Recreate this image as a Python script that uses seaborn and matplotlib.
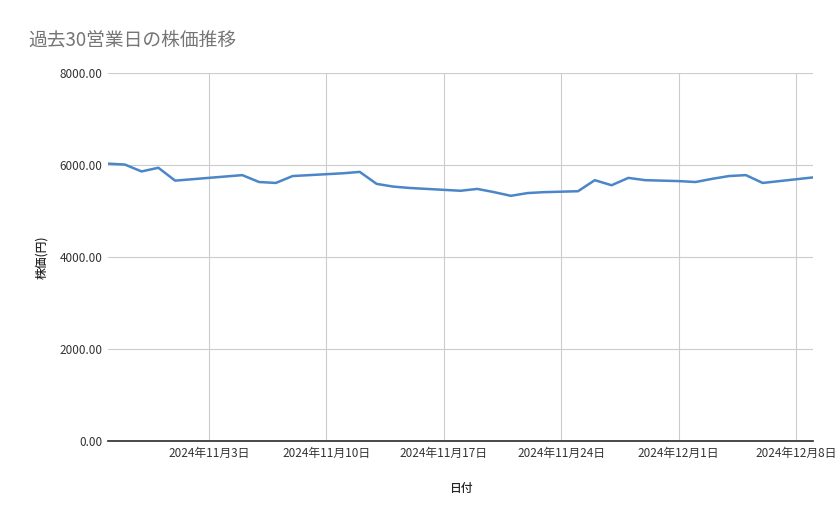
import pandas as pd
import matplotlib
matplotlib.use("Agg")
import matplotlib.pyplot as plt
import seaborn as sns

sns.set_theme(style="whitegrid")
plt.rcParams["font.family"] = ["Noto Sans CJK JP", "DejaVu Sans"]

dates = pd.date_range("2024-10-28", "2024-12-09", freq="D")
prices = [
    6030, 6010, 5860, 5940, 5660, 5690, 5720, 5750, 5780, 5630,
    5610, 5760, 5780, 5800, 5820, 5850, 5590, 5530, 5500, 5480,
    5460, 5440, 5480, 5410, 5330, 5390, 5410, 5420, 5430, 5670,
    5560, 5720, 5670, 5660, 5650, 5630, 5700, 5760, 5780, 5610,
    5650, 5690, 5730,
]
tick_dates = pd.date_range("2024-11-03", "2024-12-08", freq="7D")

df = pd.DataFrame({"日付": dates, "株価": prices})

fig = plt.figure(figsize=(8.39, 5.19), dpi=100)
ax = fig.add_axes([108 / 839, 1 - 441 / 519, 705 / 839, 368 / 519])
sns.lineplot(data=df, x="日付", y="株価", ax=ax, color="#4a86c8", linewidth=1.8)

ax.set_xlim(dates[0], dates[-1])
ax.set_ylim(0, 8000)
ax.set_yticks([0, 2000, 4000, 6000, 8000])
ax.yaxis.set_major_formatter(matplotlib.ticker.FormatStrFormatter("%.2f"))
ax.set_xticks(tick_dates)
ax.set_xticklabels([f"{d.year}年{d.month}月{d.day}日" for d in tick_dates])
ax.tick_params(axis="both", labelsize=8.5, colors="#333333", length=0, pad=4)
ax.grid(color="#cccccc", linewidth=0.8)
for s in ["top", "right", "left"]:
    ax.spines[s].set_visible(False)
ax.spines["bottom"].set_color("#333333")
ax.set_xlabel("日付", fontsize=8.5, labelpad=16, fontweight="medium")
ax.set_ylabel("株価(円)", fontsize=8.5, labelpad=8, fontweight="medium")

fig.text(28 / 839, 1 - 40 / 519, "過去30営業日の株価推移", fontsize=13.5, color="#757575", va="center")

fig.savefig("out.png", dpi=100)
